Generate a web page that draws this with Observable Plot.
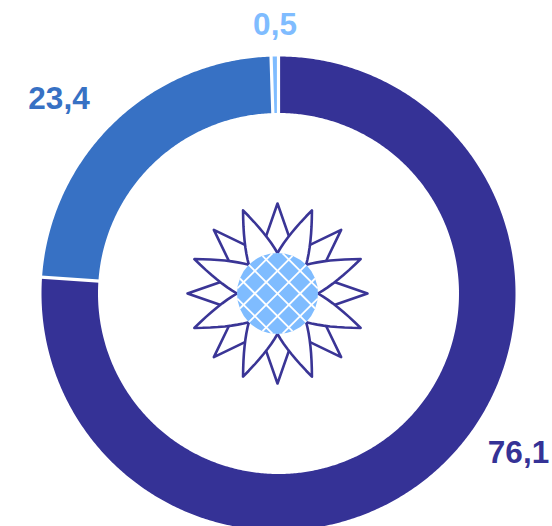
<!DOCTYPE html>
<html><head><meta charset="utf-8">
<script src="https://cdn.jsdelivr.net/npm/d3@7"></script>
<script src="https://cdn.jsdelivr.net/npm/@observablehq/plot@0.6"></script>
<style>html,body{margin:0;padding:0;background:#fff}svg{display:block}</style>
</head><body><div id="c"></div>
<script>
const labels = ["76,1", "23,4", "0,5"];
const values = [76.1, 23.4, 0.5];
const colors = ["#353296", "#3771c4", "#7fbcff"];
const labelX = [240, -219.5, -3.5];
const labelY = [159, -195, -269];
const outerR = 237, innerR = 180.5;
const petalAngles = [0,1,2,3,4,5,6,7];
const hatchOffsets = [-32,-16,0,16,32];
const discR = 40.5, midR = 61, tipR = 90, flowerX = -1, bulge = 1.3;
const W = 552, H = 526, cx = 278, cy = 293;

const polar = (r, deg) => ({x: r*Math.sin(deg*Math.PI/180), y: -r*Math.cos(deg*Math.PI/180)});
const fp = (r, deg) => { const p = polar(r, deg); return {x: p.x + flowerX, y: p.y}; };
// gently bowed petal edge, pulled towards its middle point
const edge = (a, m, b) => {
  const h = {x: (a.x+b.x)/2, y: (a.y+b.y)/2};
  const c = {x: h.x + bulge*(m.x-h.x), y: h.y + bulge*(m.y-h.y)};
  return d3.range(0, 9).map(i => { const t = i/8, u = 1-t;
    return {x: u*u*a.x + 2*u*t*c.x + t*t*b.x, y: u*u*a.y + 2*u*t*c.y + t*t*b.y}; });
};
let acc = 0;
const arcs = [], seps = [];
values.forEach((v,i) => {
  const a0 = acc*3.6, a1 = (acc+v)*3.6; acc += v;
  const n = Math.max(2, Math.ceil((a1-a0)/0.5));
  const outer = d3.range(n+1).map(k => polar(outerR, a0+(a1-a0)*k/n));
  const inner = d3.range(n+1).map(k => polar(innerR, a1-(a1-a0)*k/n));
  outer.concat(inner).forEach(p => arcs.push({...p, s: labels[i]}));
  const p = polar(innerR-1, a0), q = polar(outerR+1, a0);
  seps.push({x1:p.x,y1:p.y,x2:q.x,y2:q.y});
});
const wide = [], narrow = [];
petalAngles.forEach(k => {
  const t = k*45;
  const pts = [...edge(fp(discR,t), fp(midR,t+11.5), fp(tipR,t+22.5)),
               ...edge(fp(tipR,t+22.5), fp(midR,t+33.5), fp(discR,t+45))];
  pts.forEach(p => wide.push({...p, k}));
  [[midR-3,-11.5],[tipR,0],[midR-3,11.5]].forEach(([r,a]) => narrow.push({...fp(r,t+a), k}));
});
const hatch = [];
hatchOffsets.forEach(o => {
  const h = Math.sqrt(discR*discR - o*o), s = Math.SQRT1_2;
  hatch.push({x1:(o-h)*s+flowerX,y1:(o+h)*s,x2:(o+h)*s+flowerX,y2:(o-h)*s});
  hatch.push({x1:(o-h)*s+flowerX,y1:(-o-h)*s,x2:(o+h)*s+flowerX,y2:(-o+h)*s});
});
const txt = labels.map((t,i)=>({t,x:labelX[i],y:labelY[i],c:colors[i]}));

const plot = Plot.plot({
  width: W, height: H, margin: 0,
  x: {domain: [-cx, W-cx], axis: null},
  y: {domain: [H-cy, -cy], axis: null},
  marks: [
    Plot.line(arcs, {x:"x", y:"y", z:"s", fill:d=>colors[labels.indexOf(d.s)], stroke:"none"}),
    Plot.link(seps, {x1:"x1",y1:"y1",x2:"x2",y2:"y2",stroke:"#fff",strokeWidth:3.2}),
    Plot.line(narrow, {x:"x",y:"y",z:"k",stroke:"#3a3596",strokeWidth:2.6,strokeLinejoin:"round"}),
    Plot.line(wide, {x:"x",y:"y",z:"k",stroke:"#3a3596",fill:"#fff",strokeWidth:2.6,strokeLinejoin:"round"}),
    Plot.dot([{x:flowerX,y:0}], {x:"x",y:"y",r:discR,fill:"#7fbcff",stroke:"none"}),
    Plot.link(hatch, {x1:"x1",y1:"y1",x2:"x2",y2:"y2",stroke:"#fff",strokeWidth:1.8}),
    Plot.text(txt, {x:"x",y:"y",text:"t",fill:"c",fontSize:31.5,fontWeight:"bold",fontFamily:"Liberation Sans",textAnchor:"middle"})
  ]
});
document.getElementById("c").append(plot);
</script></body></html>
